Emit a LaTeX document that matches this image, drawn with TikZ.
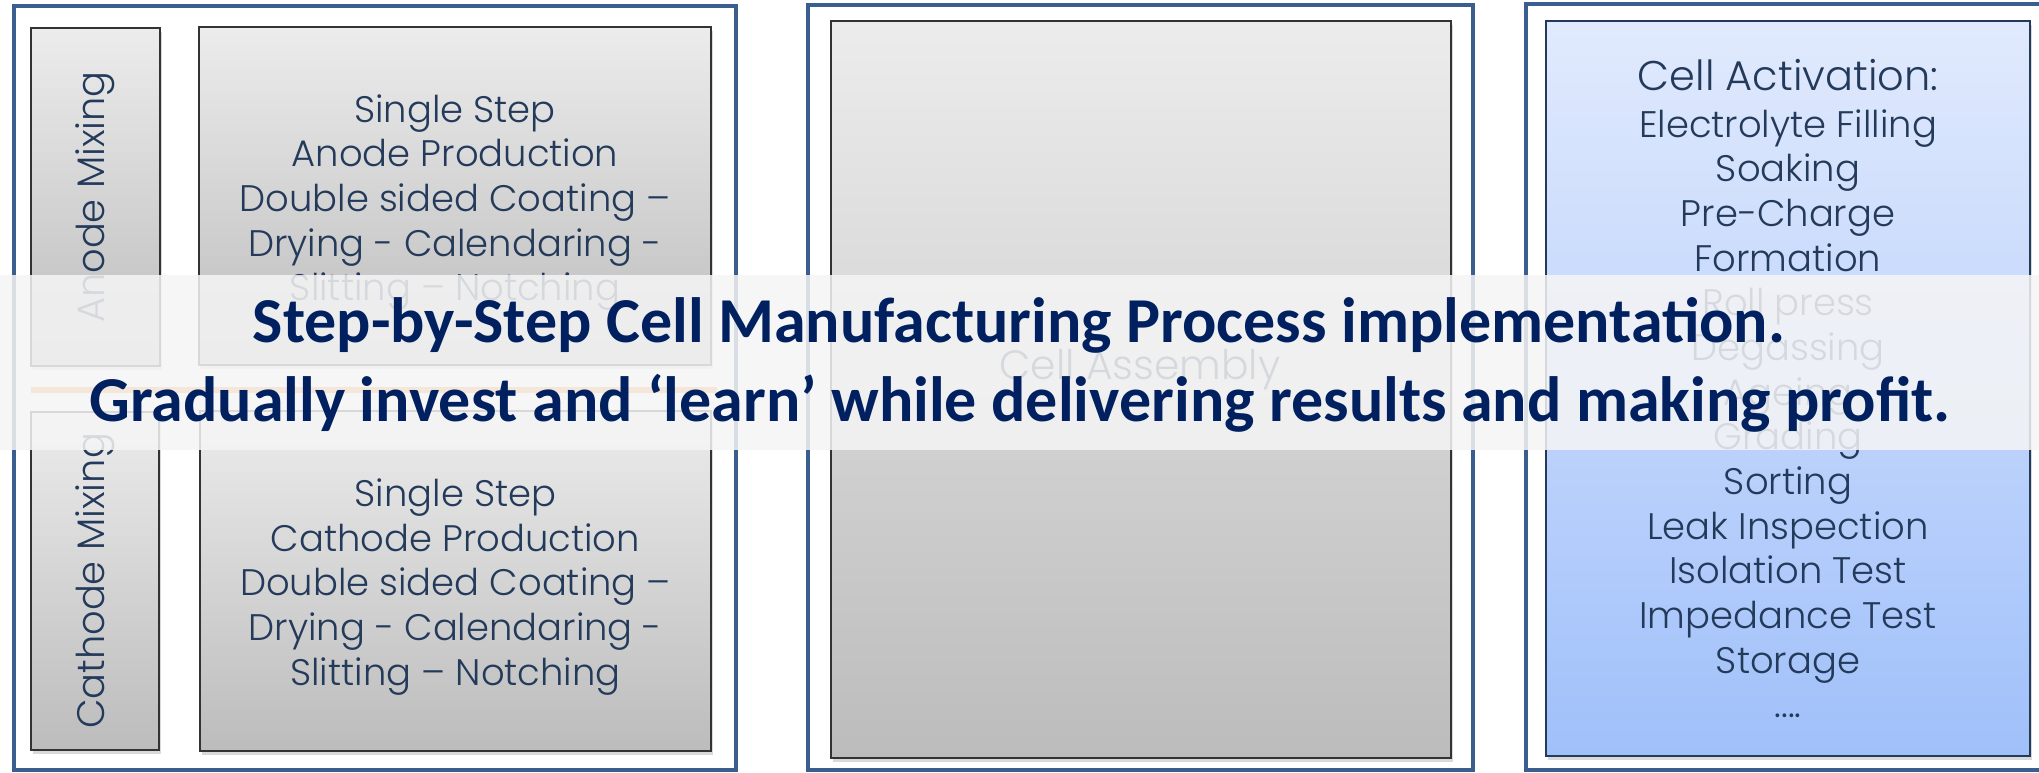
\documentclass[tikz,border=0pt]{standalone}
\usepackage{fontspec}
\setmainfont{Poppins Light}
\newfontfamily\titlefont{Carlito}
\usepackage{tikz}
\usetikzlibrary{shadows}
\definecolor{framesteel}{RGB}{58, 95, 143}
\definecolor{slatetext}{RGB}{36, 58, 90}
\definecolor{headnavy}{RGB}{0, 32, 96}
\definecolor{greytop}{RGB}{236, 236, 236}
\definecolor{greybot}{RGB}{188, 188, 188}
\definecolor{bluetop}{RGB}{225, 234, 253}
\definecolor{bluebot}{RGB}{160, 192, 250}
\definecolor{blueedge}{RGB}{120, 160, 228}
\definecolor{peach}{RGB}{247, 150, 70}

\begin{document}
\begin{tikzpicture}[x=0.01cm, y=-0.01cm,
    frame/.style={line width=0.04cm, color=framesteel},
    greybox/.style={draw=black!80, line width=0.6pt, top color=greytop, bottom color=greybot,
        inner sep=0pt, outer sep=0pt, drop shadow={shadow xshift=0.02cm, shadow yshift=-0.04cm, opacity=0.3}},
    bluebox/.style={draw=blueedge, line width=0.6pt, top color=bluetop, bottom color=bluebot,
        inner sep=0pt, outer sep=0pt, drop shadow={shadow xshift=0.02cm, shadow yshift=-0.04cm, opacity=0.3}},
    proc/.style={color=slatetext, align=center, font=\fontsize{10.5}{12.7}\selectfont},
    headline/.style={color=headnavy, font=\titlefont\bfseries\fontsize{18.2}{20}\selectfont}]
    \useasboundingbox (0,0) rectangle (2039,773);

    % three stage frames
    \draw[frame] (14,6) rectangle (736,770);
    \draw[frame] (807.5,5) rectangle (1473,770);
    \draw[frame] (2060,4) -- (1526,4) -- (1526,770) -- (2060,770);

    % electrode stage
    \node[greybox, minimum width=1.29cm, minimum height=3.38cm] (anodemix) at (95.5,197) {};
    \node[proc, rotate=90, font=\fontsize{10.9}{13}\selectfont] (anodemixtxt) at (anodemix.center) {Anode Mixing};
    \node[greybox, minimum width=5.12cm, minimum height=3.38cm] (anodeprod) at (455,196) {};
    \node[proc] (anodetxt) at ([yshift=-0.065cm]anodeprod.center)
        {Single Step\\Anode Production\\Double sided Coating –\\Drying - Calendaring -\\Slitting – Notching};

    \node[greybox, minimum width=1.28cm, minimum height=3.38cm] (cathodemix) at (95,581) {};
    \node[proc, rotate=90, font=\fontsize{10.9}{13}\selectfont] (cathodemixtxt) at (cathodemix.center) {Cathode Mixing};
    \node[greybox, minimum width=5.11cm, minimum height=3.40cm] (cathodeprod) at (455.5,581) {};
    \node[proc] (cathodetxt) at ([yshift=-0.06cm]cathodeprod.center)
        {Single Step\\Cathode Production\\Double sided Coating –\\Drying - Calendaring -\\Slitting – Notching};

    \fill[peach] (31,387) rectangle (717,393);

    % assembly stage
    \node[greybox, minimum width=6.20cm, minimum height=7.37cm] (assembly) at (1141,389.5) {};
    \node[proc, font=\fontsize{11.6}{14}\selectfont] (assemblytxt) at (1140,370) {Cell Assembly};

    % activation stage
    \node[bluebox, proc, minimum width=4.84cm, minimum height=7.35cm] (activation) at (1788,388.5)
        {{\fontsize{11.8}{13.7}\selectfont Cell Activation:}\\[0.6pt]
         Electrolyte Filling\\Soaking\\Pre-Charge\\Formation\\Roll press\\Degassing\\Ageing\\
         Grading\\Sorting\\Leak Inspection\\Isolation Test\\Impedance Test\\Storage\\....};

    % message band
    \fill[white!96!black, opacity=0.85] (0,275) rectangle (2039,450);
    \node[headline] (stepline) at (1019,325) {Step-by-Step Cell Manufacturing Process implementation.};
    \node[headline] (investline) at (1020,403) {Gradually invest and ‘learn’ while delivering results and making profit.};
\end{tikzpicture}
\end{document}
